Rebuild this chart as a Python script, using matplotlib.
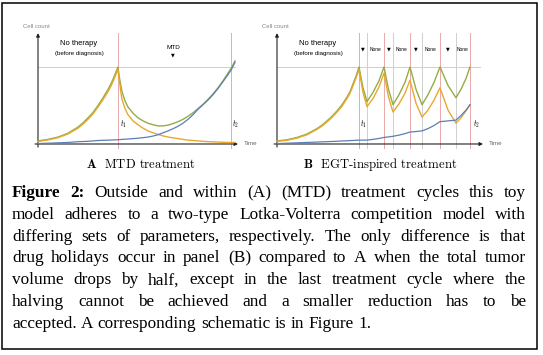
import matplotlib
matplotlib.use("Agg")
import matplotlib.pyplot as plt
from matplotlib.patches import Rectangle

# ---- data (time units, cell count relative to the threshold line = 1) ----
tA = [0, 1, 2, 3, 4, 4.5, 5, 5.5, 6, 6.5, 7, 7.25, 7.5, 7.75, 8,
      8.1, 8.2, 8.3, 8.4, 8.55, 8.7, 9, 9.5, 10, 10.5, 11, 11.5, 12, 12.5,
      13, 13.5, 14, 14.5, 15, 15.5, 16, 16.5, 17, 17.5, 18, 18.5, 19,
      19.35, 19.7]
totalA = [0.04, 0.06, 0.09, 0.14, 0.22, 0.275, 0.34, 0.41, 0.50, 0.60, 0.71,
          0.77, 0.84, 0.92, 1.0,
          0.90, 0.82, 0.75, 0.68, 0.62, 0.56, 0.48, 0.40, 0.34, 0.30, 0.27,
          0.25, 0.235, 0.235, 0.245, 0.265, 0.29, 0.32, 0.36, 0.405, 0.46,
          0.515, 0.58, 0.65, 0.73, 0.82, 0.92, 0.99, 1.08]
sensA = [0.033, 0.053, 0.082, 0.13, 0.205, 0.258, 0.32, 0.39, 0.48, 0.575,
         0.68, 0.74, 0.81, 0.89, 0.97,
         0.85, 0.76, 0.66, 0.58, 0.52, 0.46, 0.38, 0.30, 0.25, 0.205, 0.17,
         0.145, 0.125, 0.105, 0.09, 0.08, 0.07, 0.06, 0.05, 0.045, 0.04,
         0.035, 0.03, 0.028, 0.025, 0.022, 0.02, 0.02, 0.02]
resA = [0.005, 0.01, 0.015, 0.02, 0.03, 0.032, 0.035, 0.04, 0.045, 0.048,
        0.05, 0.051, 0.053, 0.054, 0.055,
        0.056, 0.057, 0.058, 0.06, 0.061, 0.062, 0.065, 0.07, 0.075, 0.082,
        0.09, 0.103, 0.12, 0.145, 0.17, 0.198, 0.23, 0.27, 0.32, 0.38, 0.45,
        0.51, 0.57, 0.64, 0.72, 0.81, 0.90, 0.97, 1.06]
eventsA = [8.0, 19.3]

tB = [0, 1, 2, 3, 4, 4.5, 5, 5.5, 6, 6.5, 7, 7.3, 7.6, 7.9, 8.2,
      8.6, 9.0, 9.6, 10.2, 10.7, 11.15, 11.6, 12.2, 12.8, 13.3, 13.9, 14.5,
      15.1, 15.7, 16.3, 17.1, 17.9, 18.4, 18.9, 19.3]
totalB = [0.04, 0.055, 0.085, 0.13, 0.20, 0.245, 0.30, 0.36, 0.43, 0.51, 0.61,
          0.68, 0.78, 0.88, 1.0,
          0.73, 0.55, 0.67, 0.82, 1.0, 0.71, 0.51, 0.64, 0.80, 1.0, 0.71,
          0.51, 0.64, 0.80, 1.0, 0.76, 0.60, 0.71, 0.85, 1.0]
sensB = [0.035, 0.048, 0.076, 0.12, 0.19, 0.233, 0.287, 0.345, 0.415, 0.49,
         0.59, 0.66, 0.755, 0.855, 0.965,
         0.67, 0.485, 0.59, 0.74, 0.92, 0.61, 0.415, 0.52, 0.66, 0.83, 0.53,
         0.35, 0.44, 0.57, 0.73, 0.44, 0.27, 0.34, 0.43, 0.51]
resB = [0.005, 0.01, 0.015, 0.02, 0.025, 0.028, 0.03, 0.033, 0.035, 0.04,
        0.042, 0.044, 0.046, 0.048, 0.05,
        0.05, 0.05, 0.06, 0.072, 0.085, 0.092, 0.10, 0.115, 0.135, 0.155,
        0.162, 0.17, 0.20, 0.24, 0.29, 0.30, 0.31, 0.37, 0.44, 0.51]
treat_startB = [8.2, 10.7, 13.3, 16.3, 19.3]
holiday_startB = [9.0, 11.6, 14.5, 17.9]

caption_lines = [
    "Figure 2: Outside and within (A) (MTD) treatment cycles this toy",
    "model adheres to a two-type Lotka-Volterra competition model with",
    "differing sets of parameters, respectively. The only difference is that",
    "drug holidays occur in panel (B) compared to A when the total tumor",
    "volume drops by half, except in the last treatment cycle where the",
    "halving cannot be achieved and a smaller reduction has to be",
    "accepted. A corresponding schematic is in Figure 1.",
]

GREEN = "#93ad45"
ORANGE = "#e8a830"
BLUE = "#5b7fb3"
RED = "#e9a9a9"
GRAY = "#cfcfcf"
AXC = "#222222"

W, H = 543, 355
fig = plt.figure(figsize=(W / 100, H / 100), dpi=100)
plt.rcParams["mathtext.fontset"] = "cm"


def px_axes(x0, x1, y0, y1):
    # axes placed by pixel box (y measured from the top)
    return fig.add_axes([x0 / W, 1 - y1 / H, (x1 - x0) / W, (y1 - y0) / H])


def setup_panel(ax, xleft, xend, title):
    ax.set_xlim(xleft, xleft + 23.8)
    ax.set_ylim(-0.078, 1.61)
    ax.axis("off")
    # axes with arrows
    ax.annotate("", xy=(0, 1.44), xytext=(0, -0.04),
                arrowprops=dict(arrowstyle="-|>", color=AXC, lw=0.8,
                                mutation_scale=5, shrinkA=0, shrinkB=0))
    ax.annotate("", xy=(xend, 0), xytext=(-0.3, 0),
                arrowprops=dict(arrowstyle="-|>", color=AXC, lw=0.8,
                                mutation_scale=5, shrinkA=0, shrinkB=0))
    ax.plot([0, xend - 0.3], [1, 1], color=GRAY, lw=0.7, zorder=1)
    ax.text(-1.5, 1.52, "Cell count", fontsize=4.3, color="#888888",
            family="Liberation Sans", va="center")
    ax.text(xend + 0.6, 0, "Time", fontsize=4.5, color="#666666",
            family="Liberation Sans", va="center")
    ax.text(4.1, 1.31, "No therapy", fontsize=5.4, ha="center", va="center",
            family="Liberation Sans")
    ax.text(4.1, 1.18, "(before diagnosis)", fontsize=4.4, ha="center",
            va="center", family="Liberation Sans")
    ax.text(10.3, -0.26, title, fontsize=9.2, ha="center", va="center",
            family="cmr10")


def curves(ax, t, total, sens, res):
    ax.plot(t, total, color=GREEN, lw=1.0, zorder=3)
    ax.plot(t, sens, color=ORANGE, lw=1.0, zorder=4)
    ax.plot(t, res, color=BLUE, lw=0.9, zorder=5)


# ---- panel A ----
axA = px_axes(30, 268, 20, 150)
setup_panel(axA, -0.8, 20.0, r"$\mathbf{A}$  MTD treatment")
for x in eventsA:
    axA.plot([x, x], [-0.05, 1.44], color=RED, lw=0.7, zorder=1)
axA.text(eventsA[0] + 0.15, 0.25, r"$t_1$", fontsize=5.5, va="center")
axA.text(eventsA[1] + 0.15, 0.25, r"$t_2$", fontsize=5.5, va="center")
axA.text(13.5, 1.25, "MTD", fontsize=4.6, ha="center", va="center",
         family="Liberation Sans")
axA.text(13.5, 1.16, "▼", fontsize=3.5, ha="center", va="center")
curves(axA, tA, totalA, sensA, resA)

# ---- panel B ----
axB = px_axes(269, 507, 20, 150)
setup_panel(axB, -0.8, 20.6, r"$\mathbf{B}$  EGT-inspired treatment")
for x in treat_startB:
    axB.plot([x, x], [-0.05, 1.44], color=RED, lw=0.7, zorder=1)
for x in holiday_startB:
    axB.plot([x, x], [-0.05, 1.44], color=GRAY, lw=0.7, zorder=1)
for a, b in zip(treat_startB[:-1], holiday_startB):
    axB.text((a + b) / 2, 1.23, "▼", fontsize=3.5, ha="center", va="center")
for a, b in zip(holiday_startB, treat_startB[1:]):
    axB.text((a + b) / 2, 1.23, "None", fontsize=3.5, ha="center",
             va="center", family="Liberation Sans")
axB.text(treat_startB[0] + 0.15, 0.25, r"$t_1$", fontsize=5.5, va="center")
axB.text(treat_startB[-1] + 0.3, 0.25, r"$t_2$", fontsize=5.5, va="center")
curves(axB, tB, totalB, sensB, resB)

# ---- caption, justified ----
renderer = fig.canvas.get_renderer()
left, right = 12, 526
base0, step = 197, 21.8
fs = 12.4
for i, line in enumerate(caption_lines):
    words = line.split(" ")
    items = []
    for j, w in enumerate(words):
        bold = (i == 0 and j < 2)
        t = fig.text(0, 1 - (base0 + i * step) / H, w, fontsize=fs,
                     family="Liberation Serif",
                     weight="bold" if bold else "normal", va="baseline")
        items.append(t)
    widths = [t.get_window_extent(renderer).width for t in items]
    if i < len(caption_lines) - 1:
        gap = (right - left - sum(widths)) / (len(items) - 1)
    else:
        sp = fig.text(0, 0, "a a", fontsize=fs, family="Liberation Serif")
        sp2 = fig.text(0, 0, "aa", fontsize=fs, family="Liberation Serif")
        gap = sp.get_window_extent(renderer).width - sp2.get_window_extent(renderer).width
        sp.remove()
        sp2.remove()
    x = left
    for t, w in zip(items, widths):
        t.set_x(x / W)
        x += w + gap

# border
fig.patches.append(Rectangle((2 / W, 1 - 349 / H), 535 / W, 346 / H,
                             transform=fig.transFigure, fill=False,
                             edgecolor="black", lw=1.1))

fig.savefig("out.png", dpi=100)
